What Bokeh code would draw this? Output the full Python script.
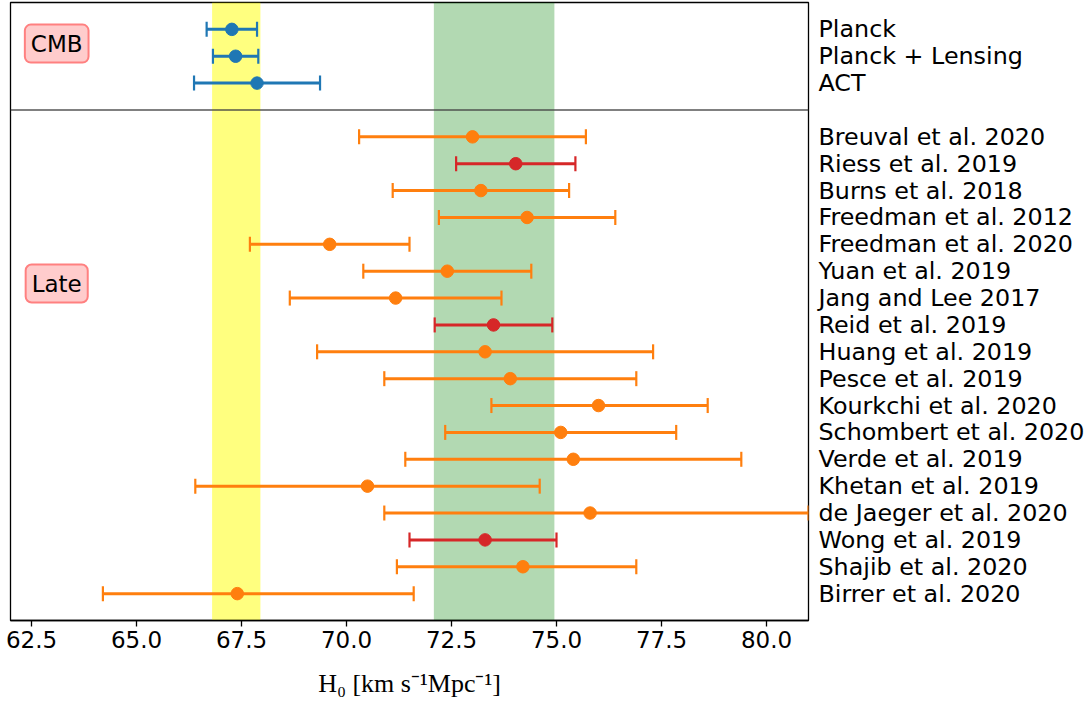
from bokeh.plotting import figure
from bokeh.models import (Range1d, FixedTicker, Whisker, TeeHead, ColumnDataSource,
                          BoxAnnotation, Span, Label)
from bokeh.embed import file_html
from bokeh.resources import INLINE

# ---- data ----
cmb_names = ["Planck", "Planck + Lensing", "ACT"]
cmb_h0 = [67.27, 67.36, 67.87]
cmb_lo = [66.67, 66.82, 66.37]
cmb_hi = [67.87, 67.90, 69.37]

late_names = ["Breuval et al. 2020", "Riess et al. 2019", "Burns et al. 2018",
              "Freedman et al. 2012", "Freedman et al. 2020", "Yuan et al. 2019",
              "Jang and Lee 2017", "Reid et al. 2019", "Huang et al. 2019",
              "Pesce et al. 2019", "Kourkchi et al. 2020", "Schombert et al. 2020",
              "Verde et al. 2019", "Khetan et al. 2019", "de Jaeger et al. 2020",
              "Wong et al. 2019", "Shajib et al. 2020", "Birrer et al. 2020"]
late_h0 = [73.0, 74.03, 73.2, 74.3, 69.6, 72.4, 71.17, 73.5, 73.3, 73.9,
           76.0, 75.1, 75.4, 70.5, 75.8, 73.3, 74.2, 67.4]
late_lo = [70.3, 72.61, 71.1, 72.2, 67.7, 70.4, 68.65, 72.1, 69.3, 70.9,
           73.45, 72.35, 71.4, 66.4, 70.9, 71.5, 71.2, 64.2]
late_hi = [75.7, 75.45, 75.3, 76.4, 71.5, 74.4, 73.69, 74.9, 77.3, 76.9,
           78.6, 77.85, 79.4, 74.6, 81.0, 75.0, 76.9, 71.6]
late_kind = ["other", "highlight", "other", "other", "other", "other", "other",
             "highlight", "other", "other", "other", "other", "other", "other",
             "other", "highlight", "other", "other"]

planck_band = (66.8, 67.95)
shoes_band = (72.08, 74.95)
x_ticks = [62.5, 65.0, 67.5, 70.0, 72.5, 75.0, 77.5, 80.0]

# ---- layout of rows ----
cmb_y = list(range(len(cmb_names)))
late_y = [len(cmb_names) + 1 + i for i in range(len(late_names))]
divider = len(cmb_names)
y_top = -1
y_bot = late_y[-1] + 1

BLUE = "#1f77b4"
ORANGE = "#ff7f0e"
RED = "#d62728"
FONT = "DejaVu Sans"

p = figure(width=1090, height=704, output_backend="svg", toolbar_location=None,
           x_range=Range1d(62.0, 81.0), y_range=Range1d(y_bot, y_top),
           y_axis_location="right", min_border_left=10, min_border_right=282,
           min_border_top=2, min_border_bottom=84)
p.grid.visible = False
p.outline_line_color = "black"
p.outline_line_width = 1.3
p.background_fill_color = "white"
p.border_fill_color = "white"

# bands
p.add_layout(BoxAnnotation(left=planck_band[0], right=planck_band[1],
                           fill_color="#ffff00", fill_alpha=0.5, line_color=None, level="underlay"))
p.add_layout(BoxAnnotation(left=shoes_band[0], right=shoes_band[1],
                           fill_color="#008000", fill_alpha=0.3, line_color=None, level="underlay"))
p.add_layout(Span(location=divider, dimension="width", line_color="#444444",
                  line_width=1.3, line_alpha=0.9))


def add_points(ys, h0, lo, hi, color):
    src = ColumnDataSource(dict(y=ys, x=h0, lo=lo, hi=hi))
    w = Whisker(source=src, base="y", lower="lo", upper="hi", dimension="width",
                line_color=color, line_width=3,
                lower_head=TeeHead(size=15, line_color=color, line_width=2.2),
                upper_head=TeeHead(size=15, line_color=color, line_width=2.2))
    p.add_layout(w)
    p.scatter("x", "y", source=src, size=12.5, color=color)


add_points(cmb_y, cmb_h0, cmb_lo, cmb_hi, BLUE)
for kind, color in (("other", ORANGE), ("highlight", RED)):
    idx = [i for i, k in enumerate(late_kind) if k == kind]
    add_points([late_y[i] for i in idx], [late_h0[i] for i in idx],
               [late_lo[i] for i in idx], [late_hi[i] for i in idx], color)

# right-hand labels
yax = p.yaxis[0]
yax.ticker = FixedTicker(ticks=cmb_y + late_y)
labels = {}
for y, n in zip(cmb_y, cmb_names):
    labels[y] = n
for y, n in zip(late_y, late_names):
    labels[y] = n
yax.major_label_overrides = labels
yax.axis_line_color = None
yax.major_tick_line_color = None
yax.minor_tick_line_color = None
yax.major_tick_in = 0
yax.major_tick_out = 0
yax.major_label_standoff = 10
yax.major_label_text_font = FONT
yax.major_label_text_font_size = "23.8px"
yax.major_label_text_color = "black"

# bottom axis
xax = p.xaxis[0]
xax.ticker = FixedTicker(ticks=x_ticks)
xax.major_label_overrides = {t: f"{t:.1f}" for t in x_ticks}
xax.minor_tick_line_color = None
xax.major_tick_in = 0
xax.major_tick_out = 6
xax.major_tick_line_width = 1.3
xax.axis_line_width = 1.3
xax.major_label_standoff = 4
xax.major_label_text_font = FONT
xax.major_label_text_font_size = "23px"
xax.major_label_text_color = "black"
xax.axis_label = "H\u2080 [km s\u207b\u00b9Mpc\u207b\u00b9]"
xax.axis_label_text_font = "Liberation Serif"
xax.axis_label_text_font_style = "normal"
xax.axis_label_text_font_size = "26px"
xax.axis_label_text_color = "black"
xax.axis_label_standoff = 18

# panel labels
for txt, y in (("CMB", 0.53), ("Late", 9.46)):
    p.add_layout(Label(x=63.1, y=y, text=txt, text_align="center", text_baseline="middle",
                       text_font=FONT, text_font_size="23px", text_color="black",
                       background_fill_color="#ffcccc", background_fill_alpha=1.0,
                       border_line_color="#ff8080", border_line_width=2,
                       padding=6, border_radius=6))

open("out.html", "w").write(file_html(p, INLINE))
